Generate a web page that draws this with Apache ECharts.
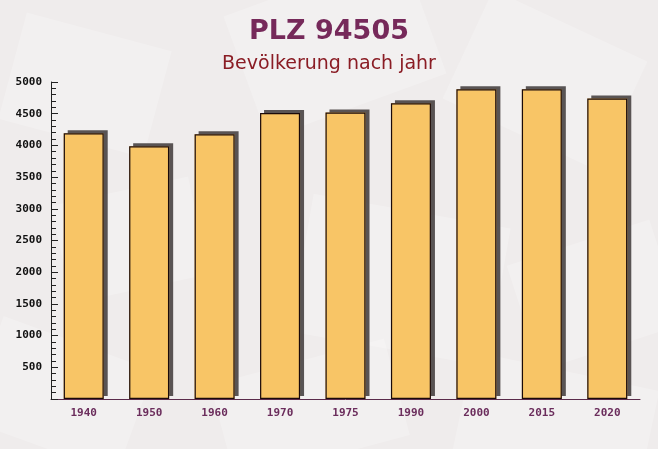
<!DOCTYPE html>
<html><head><meta charset="utf-8">
<script src="https://cdn.jsdelivr.net/npm/echarts@6/dist/echarts.min.js"></script>
<style>html,body{margin:0;padding:0;background:#efecec}#c{width:658px;height:449px}</style>
</head><body><div id="c"></div>
<script>
var categories = ['1940','1950','1960','1970','1975','1990','2000','2015','2020'];
var population = [4190, 3985, 4175, 4510, 4520, 4665, 4885, 4885, 4740];
var yTicks = [500,1000,1500,2000,2500,3000,3500,4000,4500,5000];

var chart = echarts.init(document.getElementById('c'));
var shapes = [];
var rects = [
  [10,30,150,110,-15],[240,-20,190,130,20],[460,20,170,120,-25],[60,190,140,100,12],
  [300,210,200,140,-10],[520,240,150,110,18],[-20,340,160,110,-20],[220,360,180,100,15],
  [460,370,190,110,-12]
];
rects.forEach(function(r){
  shapes.push({type:'rect', rotation:r[4]*Math.PI/180, originX:r[0]+r[2]/2, originY:r[1]+r[3]/2,
    shape:{x:r[0],y:r[1],width:r[2],height:r[3]}, style:{fill:'rgba(255,255,255,0.22)'}, silent:true, z:-10});
});
chart.setOption({
  backgroundColor:'#efecec',
  animation:false,
  graphic: shapes,
  title:[
    {text:'PLZ 94505', left:'center', top:13, textStyle:{fontFamily:'DejaVu Sans', fontWeight:'bold', fontSize:27, color:'#76295a'}},
    {text:'Bevölkerung nach jahr', left:'center', top:50, textStyle:{fontFamily:'DejaVu Sans', fontWeight:'normal', fontSize:19, color:'#8a1c24'}}
  ],
  grid:{left:51, right:18, top:82, bottom:50},
  xAxis:{
    type:'category', data:categories,
    axisLine:{lineStyle:{color:'#5a2a4a', width:1}},
    axisTick:{inside:true, length:5, lineStyle:{color:'#5a2a4a'}},
    axisLabel:{fontFamily:'DejaVu Sans Mono', fontWeight:'bold', fontSize:11, color:'#6b2d5c', margin:9}
  },
  yAxis:{
    type:'value', min:0, max:5000, interval:500,
    axisLine:{show:true, lineStyle:{color:'#222', width:1}},
    axisTick:{show:true, inside:true, length:7, lineStyle:{color:'#222'}},
    minorTick:{show:true, splitNumber:5, length:5, lineStyle:{color:'#222'}},
    splitLine:{show:false},
    axisLabel:{fontFamily:'DejaVu Sans Mono', fontWeight:'bold', fontSize:11, color:'#111', margin:9,
      formatter:function(v){ return v===0 ? '' : String(v); }}
  },
  series:[{
    type:'bar', data:population, barWidth:40, z:2,
    itemStyle:{color:'#f8c566', shadowColor:'rgba(80,75,75,0.95)', shadowOffsetX:4, shadowOffsetY:-3, shadowBlur:0}
  },{
    type:'bar', data:population, barWidth:40, barGap:'-100%', z:3,
    itemStyle:{color:'#f8c566', borderColor:'#1a0a0a', borderWidth:1.2}
  }]
});
</script></body></html>
